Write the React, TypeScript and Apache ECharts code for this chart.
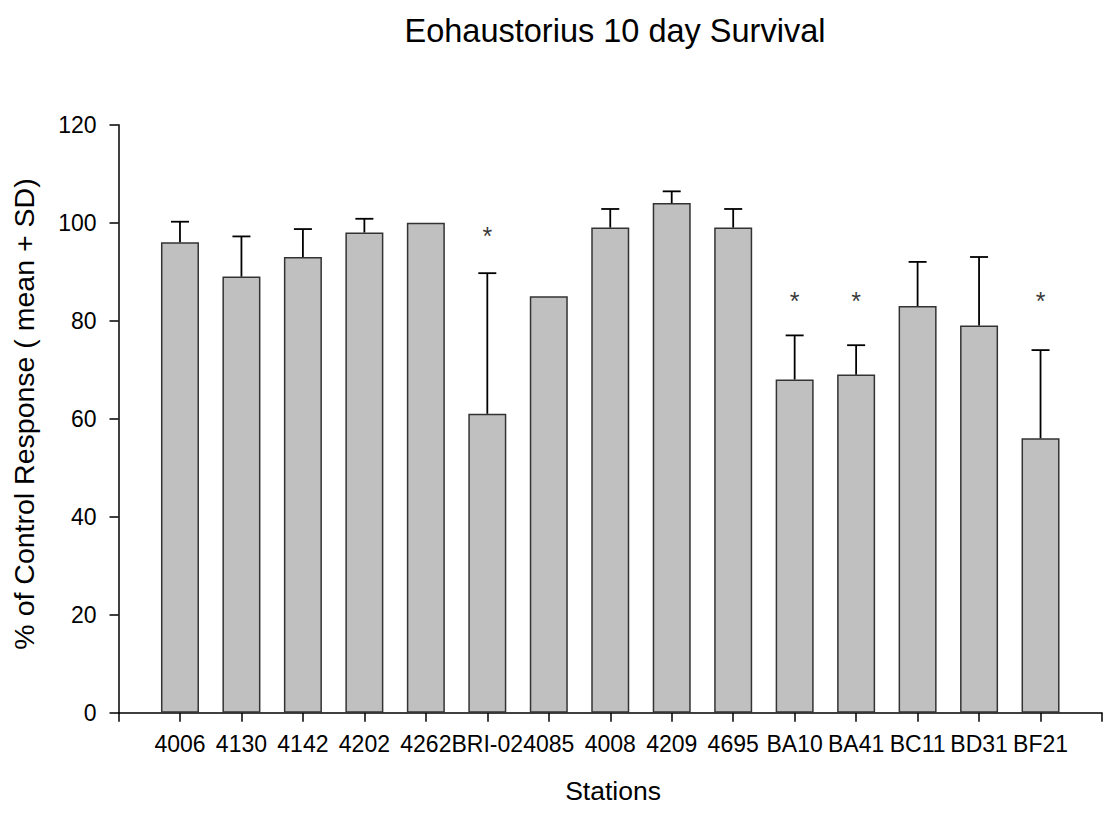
import React, { useEffect, useRef } from "react";
import * as echarts from "echarts";

const stations = ["4006", "4130", "4142", "4202", "4262", "BRI-02", "4085", "4008", "4209", "4695", "BA10", "BA41", "BC11", "BD31", "BF21"];
const means = [96, 89, 93, 98, 100, 61, 85, 99, 104, 99, 68, 69, 83, 79, 56];
const sds = [4.2, 8.2, 5.7, 2.8, 0, 28.7, 0, 3.8, 2.4, 3.8, 9, 6, 9, 14, 18];
const asteriskY: (number | null)[] = [null, null, null, null, null, 97.3, null, null, null, null, 84, 84, null, null, 84];
const yTicks = { min: 0, max: 120, interval: 20 };

const FONT = "Arial, 'Liberation Sans', sans-serif";

export default function App() {
  const ref = useRef<HTMLDivElement>(null);
  useEffect(() => {
    if (!ref.current) return;
    const chart = echarts.init(ref.current, undefined, { renderer: "svg" });
    const barData = means.map((m, i) => [i + 1, m]);
    const errData = means.map((m, i) => [i + 1, m, m + sds[i]]);
    const starData = asteriskY
      .map((v, i) => (v == null ? null : [i + 1, v]))
      .filter((d) => d !== null);
    chart.setOption({
      animation: false,
      backgroundColor: "#ffffff",
      textStyle: { fontFamily: FONT },
      grid: { left: 118.5, top: 124.7, width: 992, height: 588, containLabel: false },
      xAxis: {
        type: "value",
        min: 0,
        max: 16,
        interval: 1,
        splitLine: { show: false },
        axisLine: { show: true, lineStyle: { color: "#000", width: 1.5 } },
        axisTick: { show: true, inside: false, length: 9, lineStyle: { color: "#000", width: 1.5 } },
        axisLabel: {
          margin: 20,
          fontSize: 23,
          color: "#000",
          fontFamily: FONT,
          showMinLabel: true,
          showMaxLabel: true,
          formatter: (v: number) => (Number.isInteger(v) && v >= 1 && v <= stations.length ? stations[v - 1] : ""),
        },
      },
      yAxis: {
        type: "value",
        min: yTicks.min,
        max: yTicks.max,
        interval: yTicks.interval,
        splitLine: { show: false },
        axisLine: { show: true, lineStyle: { color: "#000", width: 1.5 } },
        axisTick: { show: true, inside: false, length: 9, lineStyle: { color: "#000", width: 1.5 } },
        axisLabel: { margin: 22, fontSize: 23, color: "#000", fontFamily: FONT },
      },
      graphic: [
        {
          type: "text",
          x: 615,
          y: 31,
          style: { text: "Eohaustorius 10 day Survival", font: `32.5px ${FONT}`, fill: "#000", textAlign: "center", textVerticalAlign: "middle" },
        },
        {
          type: "text",
          x: 613,
          y: 791,
          style: { text: "Stations", font: `26.5px ${FONT}`, fill: "#000", textAlign: "center", textVerticalAlign: "middle" },
        },
        {
          type: "text",
          x: 24,
          y: 414,
          rotation: Math.PI / 2,
          style: { text: "% of Control Response ( mean + SD)", font: `28.5px ${FONT}`, fill: "#000", textAlign: "center", textVerticalAlign: "middle" },
        },
      ],
      series: [
        {
          type: "bar",
          data: barData,
          barWidth: 38,
          itemStyle: { color: "#c0c0c0", borderColor: "#333333", borderWidth: 1.5 },
          z: 2,
        },
        {
          type: "custom",
          data: errData,
          z: 3,
          renderItem: (params: any, api: any) => {
            const x = api.value(0);
            const lo = api.coord([x, api.value(1)]);
            const hi = api.coord([x, api.value(2)]);
            if (Math.abs(hi[1] - lo[1]) < 0.5) return { type: "group", children: [] };
            const style = { stroke: "#000", lineWidth: 1.8 };
            return {
              type: "group",
              children: [
                { type: "line", shape: { x1: lo[0], y1: lo[1], x2: hi[0], y2: hi[1] }, style },
                { type: "line", shape: { x1: hi[0] - 9, y1: hi[1], x2: hi[0] + 9, y2: hi[1] }, style },
              ],
            };
          },
        },
        {
          type: "scatter",
          data: starData,
          symbolSize: 0,
          z: 4,
          label: {
            show: true,
            position: "inside",
            formatter: "*",
            fontSize: 25,
            color: "#000",
            fontFamily: FONT,
          },
        },
      ],
    });
    return () => chart.dispose();
  }, []);
  return <div ref={ref} style={{ position: "absolute", left: 0, top: 0, width: 1105, height: 813 }} />;
}
